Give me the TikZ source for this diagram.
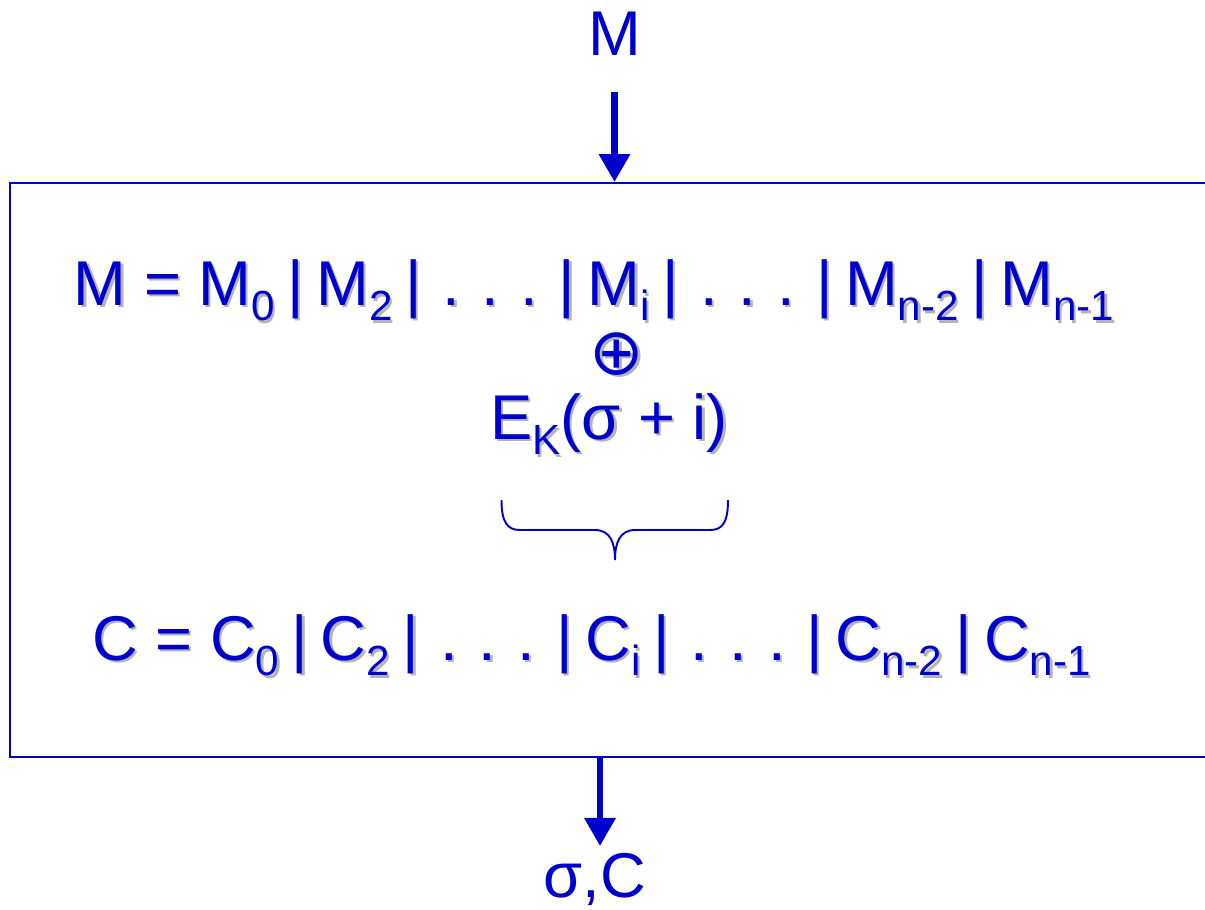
\documentclass[tikz,border=0pt]{standalone}
\usepackage{fontspec}
\setmainfont{Liberation Sans}
\newfontfamily\symbfont{DejaVu Sans}
\usepackage{tikz}
\usetikzlibrary{arrows.meta,calc}
\definecolor{ctrblue}  {HTML}{0000CC}
\definecolor{ctrshade} {HTML}{B4B4B4}
\newcommand{\lowsub}[1]{\raisebox{-9pt}{\fontsize{24}{26}\selectfont #1}}
\newcommand{\shadowed}[1]{\rlap{\color{ctrshade}\kern1.3pt\raisebox{-1.3pt}{#1}}#1}
\newcommand{\barskip}{\hspace{7.2pt}}
\newcommand{\dotskip}{\hspace{12pt}}
\newcommand{\barsep}{\barskip|\barskip}
\newcommand{\dotrun}{\barskip|\dotskip.\dotskip.\dotskip.\dotskip|\barskip}

\begin{document}
\begin{tikzpicture}[
      eqn/.style={text=ctrblue, inner sep=0pt, font=\fontsize{36}{40}\selectfont},
      flow/.style={ctrblue, line width=0.13cm, -{Triangle[width=0.6cm,length=0.56cm]}},
      framebox/.style={draw=ctrblue, line width=0.04cm, inner sep=0pt,
                       minimum width=24.1cm, minimum height=11.48cm},
    ]
      \useasboundingbox (0,0) rectangle (24.1,-18.18);
      \node[framebox] (frame) at (12.25,-9.4) {};

      \node[eqn, anchor=base] (min) at (12.29,-1.1) {M};
      \draw[flow, shorten <=0.74cm] (min.south) -- (min.south |- frame.north);

      \node[eqn, anchor=base west] (mline) at (1.47,-6.1)
        {\shadowed{M = M\lowsub{0}\barsep M\lowsub{2}\dotrun M\lowsub{i}\dotrun M\lowsub{n-2}\barsep M\lowsub{n-1}}};
      \node[eqn] (xor) at (12.34,-7.1)
        {\shadowed{\symbfont\fontsize{37}{38}\selectfont ⊕}};
      \node[eqn, anchor=base west] (ek) at (9.8,-8.78)
        {\shadowed{E\lowsub{K}(σ + i)}};

      \draw[ctrblue, line width=1.1pt]
        (10.03,-10.0) .. controls (10.03,-10.45) and (10.15,-10.6) .. (10.4,-10.6)
        -- (11.9,-10.6) .. controls (12.2,-10.6) and (12.3,-10.85) .. (12.3,-11.2)
        .. controls (12.3,-10.85) and (12.4,-10.6) .. (12.7,-10.6)
        -- (14.2,-10.6) .. controls (14.45,-10.6) and (14.56,-10.45) .. (14.56,-10.0);

      \node[eqn, anchor=base west] (cline) at (1.84,-13.2)
        {\shadowed{C = C\lowsub{0}\barsep C\lowsub{2}\dotrun C\lowsub{i}\dotrun C\lowsub{n-2}\barsep C\lowsub{n-1}}};

      \node[eqn, anchor=base] (out) at (11.9,-17.94) {σ,C};
      \draw[flow, shorten >=0.13cm]
        ([xshift=1mm]out.north |- frame.south) -- ([xshift=1mm]out.north);
    \end{tikzpicture}
\end{document}
